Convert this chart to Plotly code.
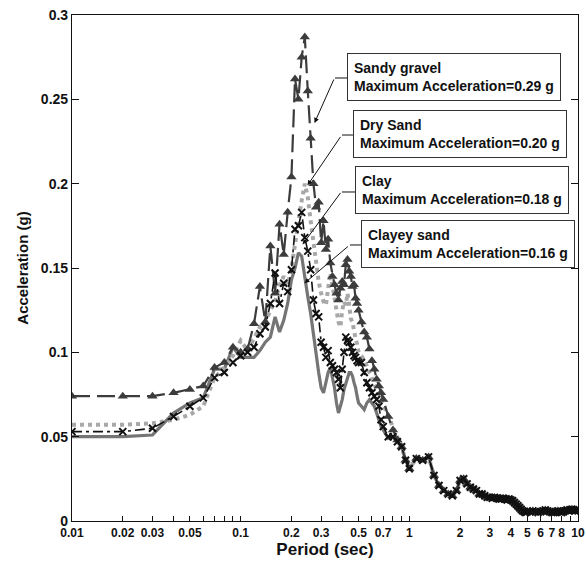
import math
import plotly.graph_objects as go

# periods (sec) where each soil curve is read individually
period_short = [0.01, 0.02, 0.03, 0.04, 0.05, 0.06, 0.07, 0.08, 0.09, 0.10,
                0.11, 0.12, 0.13, 0.14, 0.15, 0.16, 0.17, 0.18, 0.19, 0.20,
                0.21, 0.22, 0.23, 0.24, 0.25, 0.26, 0.27, 0.28, 0.29, 0.30,
                0.31, 0.32, 0.33, 0.34, 0.35, 0.36, 0.37, 0.38, 0.39, 0.40,
                0.41, 0.42, 0.43, 0.44, 0.45, 0.46, 0.47, 0.48, 0.49, 0.50,
                0.52, 0.54, 0.56, 0.58, 0.60, 0.62, 0.64, 0.66, 0.68, 0.70,
                0.75, 0.80, 0.85]

sandy_gravel = [0.074, 0.074, 0.074, 0.076, 0.078, 0.080, 0.091, 0.094, 0.103, 0.100,
                0.102, 0.117, 0.139, 0.118, 0.163, 0.135, 0.176, 0.158, 0.183, 0.204,
                0.262, 0.250, 0.275, 0.287, 0.255, 0.227, 0.200, 0.186, 0.189, 0.165,
                0.178, 0.161, 0.167, 0.153, 0.145, 0.140, 0.135, 0.131, 0.138, 0.142,
                0.140, 0.152, 0.155, 0.148, 0.145, 0.139, 0.140, 0.132, 0.129, 0.125,
                0.118, 0.112, 0.109, 0.102, 0.095, 0.090, 0.084, 0.080, 0.076, 0.072,
                0.062, 0.054, 0.048]

dry_sand = [0.057, 0.057, 0.058, 0.060, 0.063, 0.068, 0.085, 0.091, 0.098, 0.107,
            0.101, 0.109, 0.115, 0.118, 0.125, 0.130, 0.140, 0.145, 0.140, 0.150,
            0.165, 0.178, 0.190, 0.200, 0.192, 0.178, 0.165, 0.150, 0.142, 0.135,
            0.130, 0.128, 0.140, 0.147, 0.140, 0.130, 0.125, 0.118, 0.115, 0.125,
            0.130, 0.128, 0.135, 0.128, 0.120, 0.118, 0.112, 0.108, 0.105, 0.100,
            0.098, 0.095, 0.092, 0.088, 0.085, 0.082, 0.078, 0.075, 0.072, 0.069,
            0.062, 0.055, 0.049]

clay = [0.053, 0.053, 0.055, 0.062, 0.068, 0.073, 0.085, 0.088, 0.094, 0.098,
        0.100, 0.103, 0.111, 0.115, 0.129, 0.147, 0.129, 0.141, 0.136, 0.149,
        0.173, 0.175, 0.183, 0.168, 0.160, 0.149, 0.131, 0.123, 0.121, 0.106,
        0.103, 0.097, 0.101, 0.094, 0.092, 0.090, 0.088, 0.084, 0.079, 0.090,
        0.100, 0.109, 0.107, 0.106, 0.103, 0.100, 0.098, 0.097, 0.095, 0.094,
        0.094, 0.088, 0.082, 0.079, 0.076, 0.074, 0.072, 0.068, 0.060, 0.056,
        0.050, 0.050, 0.047]

clayey_sand = [0.050, 0.050, 0.051, 0.064, 0.070, 0.073, 0.090, 0.090, 0.103, 0.097,
               0.097, 0.097, 0.101, 0.106, 0.109, 0.121, 0.112, 0.119, 0.129, 0.143,
               0.150, 0.159, 0.157, 0.143, 0.133, 0.123, 0.111, 0.097, 0.088, 0.079,
               0.076, 0.082, 0.088, 0.091, 0.085, 0.079, 0.070, 0.064, 0.068, 0.072,
               0.078, 0.082, 0.086, 0.088, 0.088, 0.086, 0.082, 0.079, 0.074, 0.070,
               0.068, 0.066, 0.070, 0.072, 0.070, 0.068, 0.064, 0.060, 0.056, 0.054,
               0.049, 0.050, 0.047]

# long periods: all four curves sit on top of each other
period_long = [0.9, 0.95,
               1.0, 1.1, 1.2, 1.3, 1.4, 1.5, 1.6, 1.7, 1.8, 1.9,
               2.0, 2.1, 2.2, 2.3, 2.4, 2.5, 2.6, 2.7, 2.8, 2.9,
               3.0, 3.1, 3.2, 3.3, 3.4, 3.5, 3.6, 3.7, 3.8, 3.9,
               4.0, 4.1, 4.2, 4.3, 4.4, 4.5, 4.6, 4.7, 4.8, 4.9, 5.0,
               5.2, 5.4, 5.6, 5.8, 6.0, 6.2, 6.4, 6.6, 6.8, 7.0,
               7.2, 7.4, 7.6, 7.8, 8.0, 8.2, 8.4, 8.6, 8.8, 9.0,
               9.2, 9.4, 9.6, 9.8, 10.0]
acc_long = [0.044, 0.036,
            0.031, 0.037, 0.036, 0.038, 0.027, 0.021, 0.018, 0.016, 0.015, 0.018,
            0.024, 0.025, 0.022, 0.020, 0.019, 0.018, 0.016, 0.016, 0.015, 0.014,
            0.014, 0.0135, 0.014, 0.0135, 0.013, 0.013, 0.0135, 0.013, 0.0125, 0.013,
            0.0125, 0.012, 0.011, 0.010, 0.009, 0.008, 0.007, 0.006, 0.0055, 0.005, 0.0055,
            0.0055, 0.006, 0.0055, 0.005, 0.0055, 0.006, 0.0065, 0.006, 0.0055, 0.005,
            0.005, 0.0055, 0.006, 0.0055, 0.005, 0.0055, 0.006, 0.0065, 0.006, 0.0065,
            0.007, 0.0065, 0.006, 0.0065, 0.006]

labels = ["Sandy gravel", "Dry Sand", "Clay", "Clayey sand"]
max_acc = ["0.29", "0.20", "0.18", "0.16"]

tick_vals = [0.01, 0.02, 0.03, 0.04, 0.05, 0.06, 0.07, 0.08, 0.09,
             0.1, 0.2, 0.3, 0.4, 0.5, 0.6, 0.7, 0.8, 0.9,
             1, 2, 3, 4, 5, 6, 7, 8, 9, 10]
tick_text = ["0.01", "0.02", "0.03", "", "0.05", "", "", "", "",
             "0.1", "0.2", "0.3", "", "0.5", "", "0.7", "", "",
             "1", "2", "3", "4", "5", "6", "7", "8", "", "10"]

FONT = "Arial, Liberation Sans, sans-serif"
period = period_short + period_long

fig = go.Figure()

# draw order: clayey sand, dry sand, sandy gravel, clay (black on top)
fig.add_trace(go.Scatter(
    x=period, y=clayey_sand + acc_long, mode="lines", name=labels[3],
    line=dict(color="#757575", width=3.2),
))
fig.add_trace(go.Scatter(
    x=period, y=dry_sand + acc_long, mode="lines", name=labels[1],
    line=dict(color="#a8a8a8", width=4, dash="4px,4px"),
))
fig.add_trace(go.Scatter(
    x=period, y=sandy_gravel + acc_long, mode="lines+markers", name=labels[0],
    line=dict(color="#3c3c3c", width=2.2, dash="18px,7px"),
    marker=dict(symbol="triangle-up", size=9, color="#3c3c3c"),
))
fig.add_trace(go.Scatter(
    x=period, y=clay + acc_long, mode="lines+markers", name=labels[2],
    line=dict(color="#111111", width=1.6, dash="10px,4px,3px,4px"),
    marker=dict(symbol="x-thin", size=7, line=dict(color="#111111", width=2)),
))

# boxes with the soil names (paper coordinates of their top-left corners)
box_pos = [(0.5435, 0.925), (0.5553, 0.8123), (0.5593, 0.7016), (0.5711, 0.5949)]
for name, mx, (bx, by) in zip(labels, max_acc, box_pos):
    fig.add_annotation(
        xref="paper", yref="paper", x=bx, y=by, xanchor="left", yanchor="top",
        text=f"<b>{name}<br>Maximum Acceleration={mx} g</b>",
        showarrow=False, align="left", bgcolor="white",
        bordercolor="#333333", borderwidth=1, borderpad=6,
        font=dict(family=FONT, size=14, color="#111111"),
    )

# arrows from the boxes to the curves
arrows = [(0.274, 0.236, 20, -45), (0.249, 0.199, 34, -50),
          (0.233, 0.164, 39, -53), (0.239, 0.141, 45, -38)]
for t, v, ax, ay in arrows:
    fig.add_annotation(
        x=math.log10(t), y=v, xref="x", yref="y", ax=ax, ay=ay, text="",
        showarrow=True, arrowhead=2, arrowsize=1, arrowwidth=1, arrowcolor="#111111",
    )

stubs = [(0.5198, 0.5435, 0.8755), (0.5336, 0.5553, 0.7628),
         (0.5336, 0.5593, 0.6502), (0.5494, 0.5711, 0.5455)]
for x0, x1, y in stubs:
    fig.add_shape(type="line", xref="paper", yref="paper", x0=x0, x1=x1, y0=y, y1=y,
                  line=dict(color="#111111", width=1))

fig.update_layout(
    width=586, height=570,
    margin=dict(l=72, r=8, t=15, b=49),
    paper_bgcolor="white", plot_bgcolor="white",
    showlegend=False,
    font=dict(family=FONT, color="#111111"),
)
fig.update_xaxes(
    type="log", range=[-2, 1],
    tickvals=tick_vals, ticktext=tick_text,
    ticks="inside", ticklen=5, tickcolor="#111111",
    tickfont=dict(size=12, weight="bold"), ticklabeloverflow="allow",
    showgrid=False, zeroline=False, automargin=False,
    showline=True, linecolor="#111111", linewidth=1.2, mirror=True,
    title=dict(text="Period (sec)", font=dict(size=17, weight="bold"), standoff=4),
)
fig.update_yaxes(
    range=[0, 0.3], dtick=0.05,
    ticks="inside", ticklen=7, tickcolor="#111111",
    tickfont=dict(size=14, weight="bold"), ticklabeloverflow="allow",
    showgrid=False, zeroline=False, automargin=False,
    showline=True, linecolor="#111111", linewidth=1.2, mirror="ticks",
    title=dict(text="Acceleration (g)", font=dict(size=15, weight="bold"), standoff=8),
)

# drop the browser's default body margin so the figure fills the window
fig.write_html("out.html", config={"displayModeBar": False},
               post_script="document.body.style.margin = '0';")
